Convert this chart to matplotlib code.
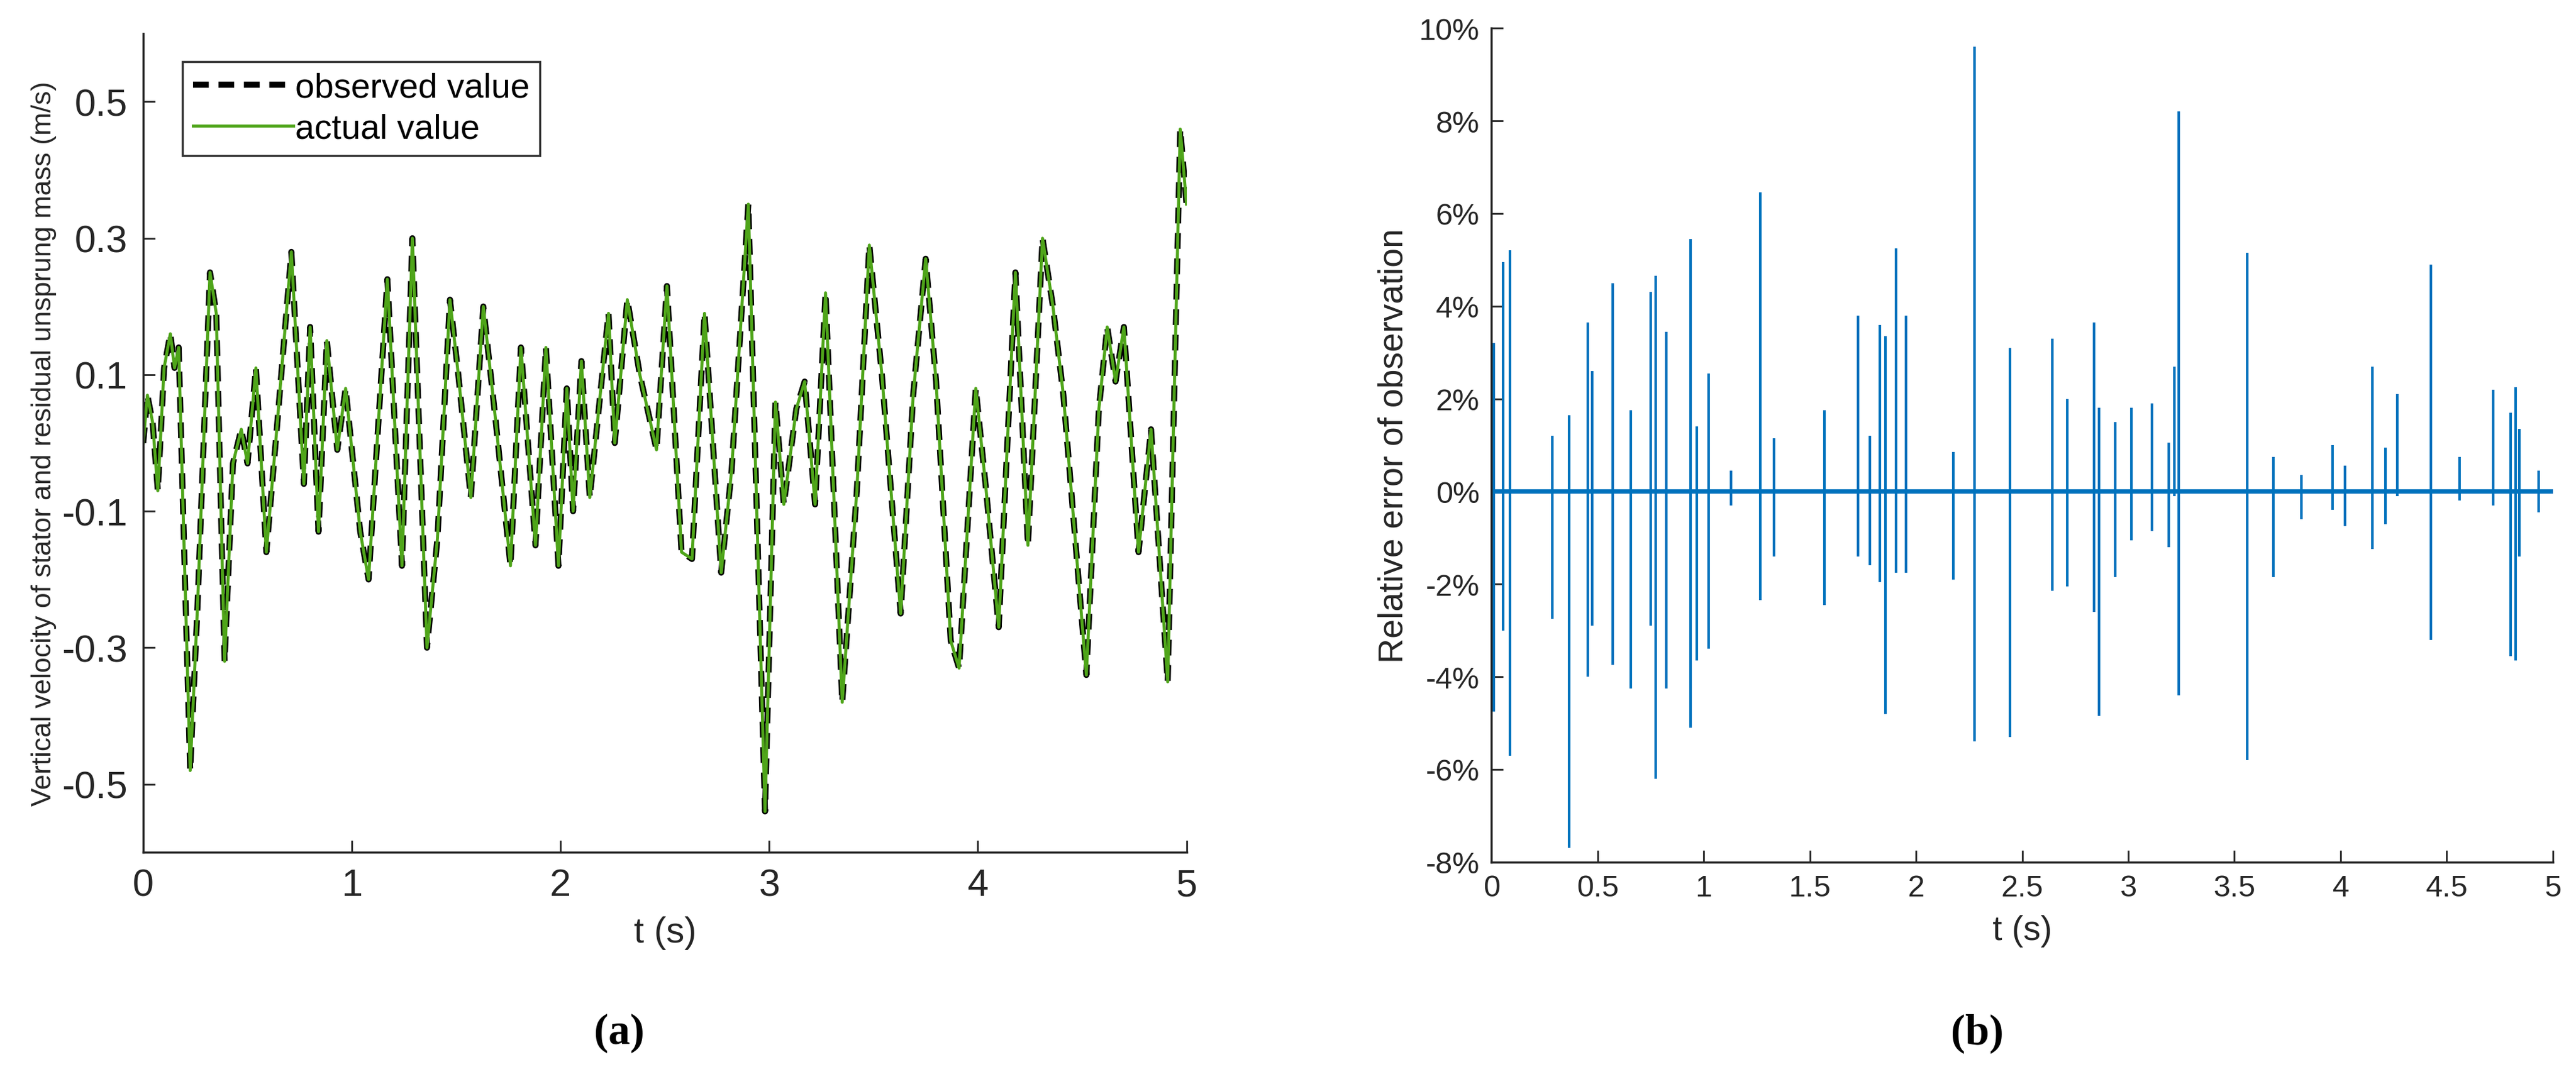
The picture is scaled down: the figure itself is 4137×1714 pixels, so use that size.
import matplotlib
matplotlib.use("Agg")
import matplotlib.pyplot as plt
import numpy as np

plt.rcParams['font.family'] = ['Liberation Sans', 'DejaVu Sans']

# (a) velocity keypoints
vel_t = [0.0,0.02,0.045,0.07,0.1,0.13,0.15,0.17,0.225,0.26,0.32,0.35,0.39,0.43,0.47,0.5,0.54,0.59,0.64,0.71,0.77,0.80,0.84,0.88,0.93,0.97,1.04,1.08,1.17,1.24,1.29,1.36,1.41,1.47,1.51,1.57,1.63,1.69,1.76,1.81,1.88,1.93,1.99,2.03,2.06,2.10,2.14,2.23,2.26,2.32,2.38,2.46,2.51,2.58,2.63,2.69,2.77,2.82,2.90,2.98,3.03,3.07,3.13,3.17,3.22,3.27,3.35,3.42,3.48,3.54,3.63,3.69,3.75,3.80,3.87,3.91,3.99,4.04,4.10,4.18,4.24,4.31,4.36,4.41,4.52,4.58,4.62,4.66,4.70,4.77,4.83,4.91,4.97,5.0]
vel_v = [0.0,0.07,0.03,-0.07,0.11,0.16,0.11,0.14,-0.48,-0.24,0.25,0.19,-0.32,-0.03,0.02,-0.03,0.11,-0.16,0.02,0.28,-0.06,0.17,-0.13,0.15,-0.01,0.08,-0.13,-0.20,0.24,-0.18,0.30,-0.30,-0.14,0.21,0.10,-0.08,0.20,0.03,-0.18,0.14,-0.15,0.14,-0.18,0.08,-0.10,0.12,-0.08,0.19,0.0,0.21,0.10,-0.01,0.23,-0.16,-0.17,0.19,-0.19,-0.04,0.35,-0.54,0.06,-0.09,0.05,0.09,-0.09,0.22,-0.38,-0.07,0.29,0.10,-0.25,0.07,0.27,0.09,-0.29,-0.33,0.08,-0.07,-0.27,0.25,-0.15,0.30,0.20,0.07,-0.34,0.05,0.17,0.09,0.17,-0.16,0.02,-0.35,0.46,0.35]

# (b) relative-error spikes (%)
spk_t  = [0.01,0.054,0.086,0.288,0.365,0.455,0.474,0.571,0.657,0.75,0.773,0.824,0.937,0.968,1.022,1.127,1.266,1.332,1.569,1.728,1.783,1.83,1.857,1.907,1.953,2.175,2.276,2.443,2.642,2.712,2.84,2.863,2.937,3.015,3.112,3.19,3.217,3.237,3.559,3.683,3.815,3.963,4.021,4.15,4.212,4.266,4.425,4.561,4.72,4.802,4.825,4.841,4.934]
spk_hi = [3.2,4.95,5.2,1.2,1.65,3.65,2.6,4.5,1.75,4.3,4.65,3.45,5.45,1.4,2.55,0.45,6.45,1.15,1.75,3.8,1.2,3.6,3.35,5.25,3.8,0.85,9.6,3.1,3.3,2.0,3.65,1.8,1.5,1.8,1.9,1.05,2.7,8.2,5.15,0.75,0.35,1.0,0.55,2.7,0.95,2.1,4.9,0.75,2.2,1.7,2.25,1.35,0.45]
spk_lo = [-4.75,-3.0,-5.7,-2.75,-7.7,-4.0,-2.9,-3.75,-4.25,-2.9,-6.2,-4.25,-5.1,-3.65,-3.4,-0.3,-2.35,-1.4,-2.45,-1.4,-1.6,-1.95,-4.8,-1.75,-1.75,-1.9,-5.4,-5.3,-2.15,-2.05,-2.6,-4.85,-1.85,-1.05,-0.85,-1.2,-0.1,-4.4,-5.8,-1.85,-0.6,-0.4,-0.75,-1.25,-0.7,-0.1,-3.2,-0.2,-0.3,-3.55,-3.65,-1.4,-0.45]

fig = plt.figure(figsize=(41.37, 17.15), dpi=100)
green = '#4fa51a'
blue = '#0072BD'

ax1 = fig.add_axes([0.0556, 0.201, 0.405, 0.767])
ax1.plot(vel_t, vel_v, color='black', lw=7, ls=(0, (2.6, 1.6)), label='observed value')
ax1.plot(vel_t, vel_v, color=green, lw=3.5, label='actual value')
ax1.set_xlim(0, 5); ax1.set_ylim(-0.6, 0.6)
ax1.set_xticks([0,1,2,3,4,5]); ax1.set_yticks([-0.5,-0.3,-0.1,0.1,0.3,0.5])
ax1.set_yticklabels(['-0.5','-0.3','-0.1','0.1','0.3','0.5'])
ax1.tick_params(labelsize=44, direction='in', length=14, width=2, colors='#262626', pad=18)
ax1.set_xlabel('t (s)', fontsize=42, color='#262626', labelpad=14)
ax1.set_ylabel('Vertical velocity of stator and residual unsprung mass (m/s)', fontsize=32, color='#262626', labelpad=6)
leg = ax1.legend(loc='upper left', bbox_to_anchor=(293/4137, 1-100/1715), bbox_transform=fig.transFigure,
                 fontsize=40, frameon=True, fancybox=False, edgecolor='black', handlelength=2.9,
                 handletextpad=0.05, borderpad=0.3, labelspacing=0.25, borderaxespad=0)
leg.get_frame().set_linewidth(2.5)

ax2 = fig.add_axes([0.579, 0.192, 0.412, 0.781])
ax2.vlines(spk_t, spk_lo, spk_hi, color=blue, lw=3)
ax2.plot([0, 5], [0, 0], color=blue, lw=5)
ax2.set_xlim(0, 5); ax2.set_ylim(-8, 10)
ax2.set_xticks(np.arange(0, 5.01, 0.5)); ax2.set_xticklabels(['0','0.5','1','1.5','2','2.5','3','3.5','4','4.5','5'])
ax2.set_yticks(range(-8, 11, 2)); ax2.set_yticklabels([f'{v}%' for v in range(-8, 11, 2)])
ax2.tick_params(labelsize=35, direction='in', length=14, width=2, colors='#262626', pad=14)
ax2.set_xlabel('t (s)', fontsize=40, color='#262626', labelpad=14)
ax2.set_ylabel('Relative error of observation', fontsize=40, color='#262626', labelpad=10)

for ax in (ax1, ax2):
    ax.spines['top'].set_visible(False); ax.spines['right'].set_visible(False)
    for s in ('left', 'bottom'):
        ax.spines[s].set_linewidth(2.5); ax.spines[s].set_color('#262626')

fig.text(994/4137, 1-1660/1715, '(a)', fontsize=50, family='Liberation Serif', fontweight='bold', ha='center', va='center')
fig.text(3175/4137, 1-1660/1715, '(b)', fontsize=50, family='Liberation Serif', fontweight='bold', ha='center', va='center')
fig.savefig('out.png', dpi=100)
